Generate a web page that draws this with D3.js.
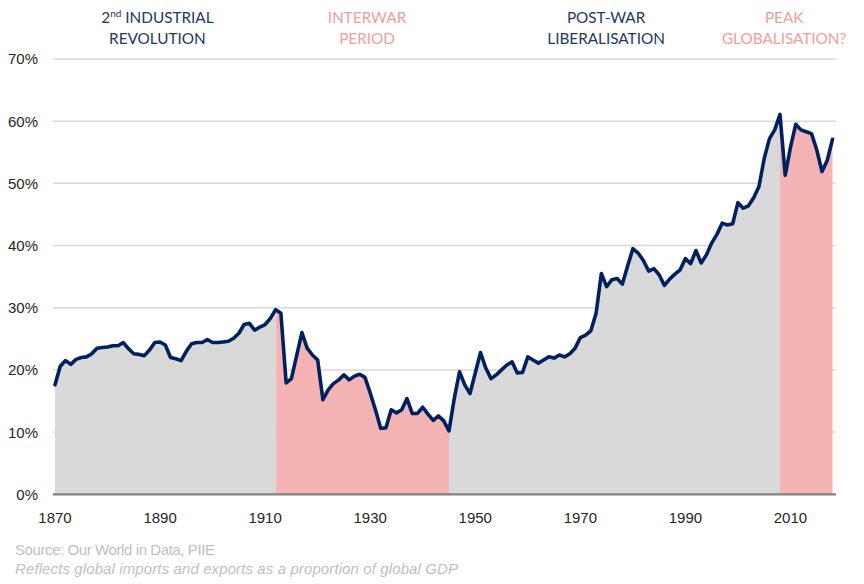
<!DOCTYPE html>
<html>
<head>
<meta charset="utf-8">
<script src="https://cdn.jsdelivr.net/npm/d3@7"></script>
<style>
  html, body { margin: 0; padding: 0; background: #fff; }
  svg { display: block; }
</style>
</head>
<body>
<svg id="chart" width="864" height="584"></svg>
<script>
// ---- Data (trade as share of global GDP) ----
const years = d3.range(1870, 2019);
const tradeShare = [
  // 1870-1912
  17.6, 20.6, 21.5, 20.9, 21.7, 22.0, 22.1, 22.6, 23.5, 23.6,
  23.7, 23.9, 23.9, 24.4, 23.4, 22.6, 22.5, 22.3, 23.2, 24.4,
  24.5, 24.0, 22.0, 21.8, 21.5, 23.0, 24.2, 24.4, 24.4, 24.9,
  24.4, 24.4, 24.5, 24.6, 25.1, 25.9, 27.3, 27.5, 26.4, 26.9,
  27.3, 28.3, 29.7,
  // 1913-1945
  29.1, 17.9, 18.6, 22.3, 26.0, 23.5, 22.4, 21.6, 15.2, 16.8,
  17.8, 18.4, 19.2, 18.4, 19.0, 19.3, 18.8, 16.3, 13.6, 10.6,
  10.7, 13.6, 13.1, 13.6, 15.4, 13.0, 13.0, 14.0, 12.9, 11.9,
  12.6, 11.8, 10.2,
  // 1946-2008
  15.4, 19.7, 17.6, 16.2, 19.5, 22.8, 20.3, 18.6, 19.2, 20.0,
  20.8, 21.3, 19.5, 19.6, 22.1, 21.6, 21.1, 21.6, 22.1, 21.9,
  22.4, 22.1, 22.6, 23.5, 25.2, 25.6, 26.3, 29.1, 35.5, 33.4,
  34.5, 34.7, 33.8, 36.7, 39.5, 38.8, 37.6, 35.9, 36.3, 35.3,
  33.6, 34.6, 35.4, 36.1, 37.9, 37.1, 39.2, 37.2, 38.5, 40.4,
  41.8, 43.6, 43.3, 43.5, 46.9, 46.0, 46.4, 47.7, 49.5, 54.0,
  57.2, 58.6, 61.1,
  // 2009-2018
  51.3, 55.8, 59.5, 58.6, 58.3, 58.0, 55.4, 51.9, 53.7, 57.1
];
const eraNames = [["2nd INDUSTRIAL", "REVOLUTION"], ["INTERWAR", "PERIOD"], ["POST-WAR", "LIBERALISATION"], ["PEAK", "GLOBALISATION?"]];
const eraStart = [1870, 1912, 1945, 2008];
const eraEnd = [1912, 1945, 2008, 2018];
const eraHighlight = [false, true, false, true];
const eraLabelCenter = [1889.5, 1929.4, 1974.9, 2008.8];
const yTicks = [0, 10, 20, 30, 40, 50, 60, 70];
const xTicks = [1870, 1890, 1910, 1930, 1950, 1970, 1990, 2010];
const sourceNote = "Source: Our World in Data, PIIE";
const descNote = "Reflects global imports and exports as a proportion of global GDP";

const data = years.map((yr, i) => ({ year: yr, value: tradeShare[i] }));

// ---- Layout ----
const svg = d3.select("#chart");
const x = d3.scaleLinear().domain([1870, 2018]).range([55, 832.5]);
const y = d3.scaleLinear().domain([0, 70]).range([494.3, 59]);
const gridX0 = 53, gridX1 = 836;

const navy = "#002060";
const navyText = "#203864";
const pinkText = "#F29C9C";
const greyFill = "#D9D9D9";
const pinkFill = "#F4B4B4";

// gridlines
svg.append("g").selectAll("line").data(yTicks.filter(t => t > 0)).join("line")
  .attr("x1", gridX0).attr("x2", gridX1)
  .attr("y1", d => y(d)).attr("y2", d => y(d))
  .attr("stroke", "#D9D9D9").attr("stroke-width", 1.5);

// areas per era
const area = d3.area().x(d => x(d.year)).y0(y(0)).y1(d => y(d.value));
svg.append("g").selectAll("path").data(eraStart.map((s, i) => i)).join("path")
  .attr("d", i => area(data.filter(d => d.year >= eraStart[i] && d.year <= eraEnd[i])))
  .attr("fill", i => eraHighlight[i] ? pinkFill : greyFill);

// x axis line
svg.append("line")
  .attr("x1", gridX0).attr("x2", gridX1)
  .attr("y1", y(0)).attr("y2", y(0))
  .attr("stroke", "#808080").attr("stroke-width", 2.2);

// line
const line = d3.line().x(d => x(d.year)).y(d => y(d.value));
svg.append("path").datum(data)
  .attr("d", line)
  .attr("fill", "none")
  .attr("stroke", navy)
  .attr("stroke-width", 3.6)
  .attr("stroke-linejoin", "round")
  .attr("stroke-linecap", "round");

// y tick labels
svg.append("g").selectAll("text").data(yTicks).join("text")
  .attr("x", 38).attr("y", d => y(d))
  .attr("dy", "0.36em")
  .attr("text-anchor", "end")
  .attr("font-family", "'Liberation Sans', Arial, sans-serif")
  .attr("font-size", 15)
  .attr("fill", "#262626")
  .text(d => d + "%");

// x tick labels
svg.append("g").selectAll("text").data(xTicks).join("text")
  .attr("x", d => x(d)).attr("y", 523)
  .attr("text-anchor", "middle")
  .attr("font-family", "'Liberation Sans', Arial, sans-serif")
  .attr("font-size", 15)
  .attr("fill", "#262626")
  .text(d => d);

// era headers
const hdr = svg.append("g")
  .attr("font-family", "Lato, 'Noto Sans', sans-serif")
  .attr("font-size", 15.3)
  .attr("text-anchor", "middle");
eraNames.forEach((names, i) => {
  const cx = x(eraLabelCenter[i]);
  const col = eraHighlight[i] ? pinkText : navyText;
  const t1 = hdr.append("text").attr("x", cx).attr("y", 22.7).attr("fill", col);
  if (names[0].startsWith("2nd")) {
    t1.append("tspan").text("2");
    t1.append("tspan").attr("font-size", 10).attr("dy", -6).text("nd");
    t1.append("tspan").attr("dy", 6).text(" INDUSTRIAL");
  } else {
    t1.text(names[0]);
  }
  hdr.append("text").attr("x", cx).attr("y", 44.3).attr("fill", col).text(names[1]);
});

// footnotes
svg.append("text")
  .attr("x", 15).attr("y", 555)
  .attr("font-family", "'Liberation Sans', Arial, sans-serif")
  .attr("font-size", 15)
  .attr("fill", "#BFBFBF")
  .attr("textLength", 200)
  .text(sourceNote);
svg.append("text")
  .attr("x", 15).attr("y", 574)
  .attr("font-family", "'Liberation Sans', Arial, sans-serif")
  .attr("font-size", 15)
  .attr("font-style", "italic")
  .attr("fill", "#BFBFBF")
  .attr("textLength", 443)
  .text(descNote);
</script>
</body>
</html>
